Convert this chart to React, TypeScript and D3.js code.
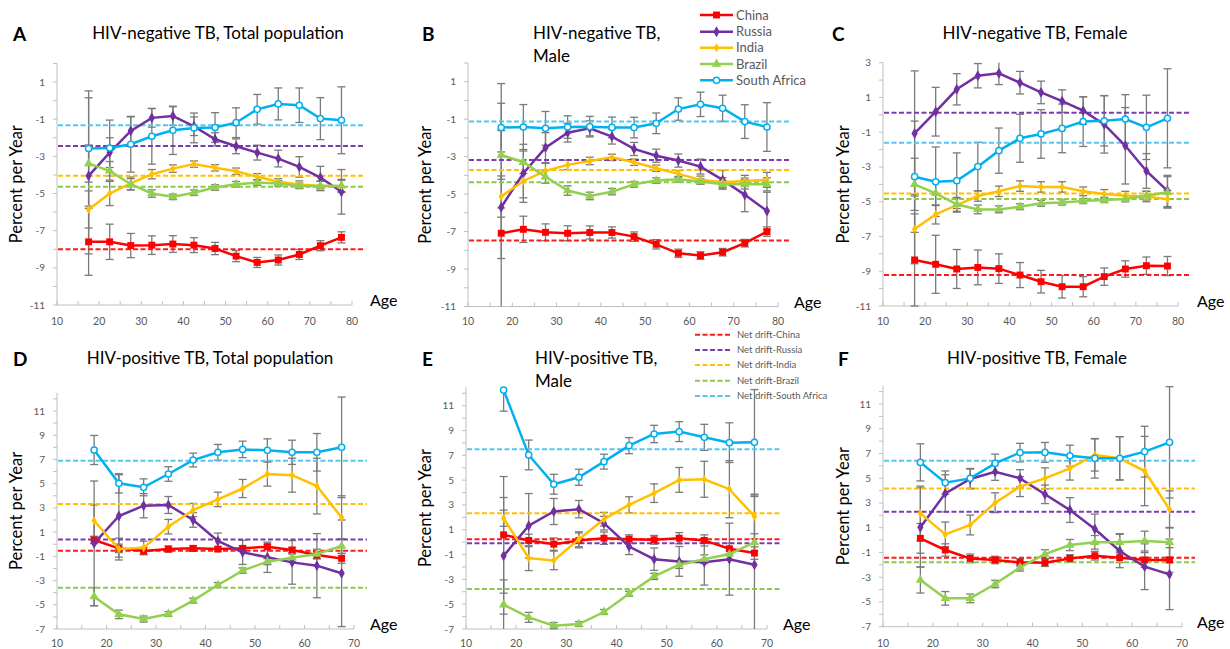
import React from 'react';
import * as d3 from 'd3';

// series order
const countries = ['China', 'Russia', 'India', 'Brazil', 'South Africa'];
const lineColors = ['#FF0000', '#7030A0', '#FFC000', '#92D050', '#00B0F0'];
const driftColors = ['#FF1A1A', '#7A3DB0', '#FFC000', '#8CC84B', '#55C6F0'];

const agesTop = [17.5, 22.5, 27.5, 32.5, 37.5, 42.5, 47.5, 52.5, 57.5, 62.5, 67.5, 72.5, 77.5];
const agesBottom = [17.5, 22.5, 27.5, 32.5, 37.5, 42.5, 47.5, 52.5, 57.5, 62.5, 67.5];

// ---- A: HIV-negative, total
const estA = {
  China: [-7.6, -7.6, -7.8, -7.78, -7.72, -7.78, -7.96, -8.37, -8.71, -8.58, -8.28, -7.81, -7.36],
  Russia: [-4.05, -2.8, -1.63, -0.93, -0.83, -1.38, -2.08, -2.46, -2.8, -3.12, -3.57, -4.14, -4.91],
  India: [-5.86, -5.0, -4.46, -3.96, -3.66, -3.42, -3.62, -3.8, -4.1, -4.37, -4.52, -4.59, -4.59],
  Brazil: [-3.39, -3.78, -4.5, -5.0, -5.18, -4.96, -4.68, -4.5, -4.41, -4.46, -4.59, -4.59, -4.59],
  'South Africa': [-2.58, -2.55, -2.35, -1.92, -1.6, -1.47, -1.45, -1.19, -0.47, -0.18, -0.25, -0.97, -1.06],
};
const ciA = {
  China: [1.8, 0.95, 0.65, 0.5, 0.45, 0.4, 0.33, 0.3, 0.27, 0.27, 0.27, 0.27, 0.3],
  Russia: [4.2, 0.8, 0.75, 0.5, 0.5, 0.5, 0.35, 0.4, 0.4, 0.45, 0.55, 0.6, 1.2],
  India: [1.0, 0.65, 0.35, 0.25, 0.2, 0.17, 0.17, 0.17, 0.17, 0.17, 0.2, 0.25, 0.3],
  Brazil: [1.0, 0.5, 0.3, 0.2, 0.15, 0.15, 0.15, 0.15, 0.15, 0.15, 0.15, 0.25, 0.35],
  'South Africa': [3.1, 1.5, 1.5, 1.5, 1.3, 0.8, 0.8, 0.8, 0.8, 0.86, 0.93, 1.13, 1.8],
};
const driftA = [-8.0, -2.44, -4.05, -4.64, -1.33];

// ---- B: HIV-negative, male
const estB = {
  China: [-7.09, -6.88, -7.04, -7.09, -7.05, -7.05, -7.27, -7.68, -8.16, -8.28, -8.1, -7.62, -7.0],
  Russia: [-5.7, -3.89, -2.52, -1.72, -1.49, -1.93, -2.59, -2.95, -3.21, -3.53, -4.24, -5.04, -5.9],
  India: [-5.13, -4.3, -3.76, -3.44, -3.23, -3.04, -3.3, -3.62, -3.92, -4.24, -4.37, -4.3, -4.24],
  Brazil: [-2.91, -3.3, -4.07, -4.81, -5.1, -4.87, -4.48, -4.28, -4.21, -4.33, -4.48, -4.48, -4.48],
  'South Africa': [-1.45, -1.42, -1.49, -1.42, -1.4, -1.44, -1.45, -1.22, -0.46, -0.21, -0.42, -1.13, -1.42],
};
const ciB = {
  China: [1.35, 0.7, 0.45, 0.4, 0.35, 0.3, 0.25, 0.25, 0.22, 0.2, 0.2, 0.2, 0.25],
  Russia: [6.6, 1.55, 0.8, 0.5, 0.4, 0.4, 0.35, 0.35, 0.35, 0.4, 0.5, 0.9, 1.0],
  India: [1.1, 0.9, 0.4, 0.25, 0.2, 0.17, 0.17, 0.17, 0.17, 0.2, 0.25, 0.3, 0.4],
  Brazil: [1.3, 0.6, 0.35, 0.25, 0.2, 0.17, 0.15, 0.15, 0.15, 0.15, 0.2, 0.25, 0.35],
  'South Africa': [1.3, 1.2, 0.9, 0.6, 0.55, 0.55, 0.55, 0.55, 0.6, 0.65, 0.7, 0.9, 1.3],
};
const driftB = [-7.48, -3.18, -3.71, -4.37, -1.13];

// ---- C: HIV-negative, female
const estC = {
  China: [-8.35, -8.6, -8.87, -8.78, -8.85, -9.22, -9.6, -9.89, -9.89, -9.31, -8.87, -8.68, -8.7],
  Russia: [-1.07, 0.18, 1.47, 2.25, 2.39, 1.85, 1.29, 0.79, 0.24, -0.55, -1.78, -3.23, -4.38],
  India: [-6.57, -5.73, -5.2, -4.67, -4.4, -4.1, -4.15, -4.15, -4.4, -4.55, -4.65, -4.7, -4.85],
  Brazil: [-4.0, -4.52, -5.15, -5.44, -5.44, -5.29, -5.09, -5.04, -4.96, -4.9, -4.84, -4.65, -4.46],
  'South Africa': [-3.56, -3.85, -3.79, -2.98, -2.06, -1.35, -1.1, -0.78, -0.39, -0.34, -0.24, -0.72, -0.2],
};
const ciC = {
  China: [2.65, 1.67, 1.12, 1.0, 0.85, 0.72, 0.65, 0.65, 0.58, 0.5, 0.47, 0.5, 0.55],
  Russia: [3.6, 1.4, 0.9, 0.7, 0.65, 0.65, 0.65, 0.65, 0.8, 1.65, 2.2, 1.0, 0.9],
  India: [2.0, 0.55, 0.4, 0.3, 0.3, 0.3, 0.3, 0.3, 0.25, 0.25, 0.25, 0.3, 0.5],
  Brazil: [1.5, 0.7, 0.4, 0.25, 0.2, 0.17, 0.17, 0.15, 0.15, 0.15, 0.17, 0.25, 0.9],
  'South Africa': [3.2, 2.0, 1.6, 1.4, 1.3, 1.38, 1.4, 1.4, 1.43, 1.45, 1.4, 1.85, 2.85],
};
const driftC = [-9.22, 0.12, -4.52, -4.84, -1.6];

// ---- D: HIV-positive, total
const estD = {
  China: [0.35, -0.34, -0.56, -0.4, -0.34, -0.4, -0.34, -0.2, -0.48, -0.89, -1.17],
  Russia: [0.07, 2.33, 3.18, 3.24, 2.0, 0.27, -0.67, -1.08, -1.5, -1.77, -2.4],
  India: [1.94, -0.4, -0.3, 1.45, 2.82, 3.7, 4.6, 5.8, 5.7, 4.8, 2.2],
  Brazil: [-4.33, -5.79, -6.18, -5.76, -4.66, -3.37, -2.18, -1.44, -1.11, -0.81, -0.15],
  'South Africa': [7.78, 5.03, 4.7, 5.8, 6.95, 7.59, 7.83, 7.75, 7.59, 7.59, 8.0],
};
const ciD = {
  China: [0.3, 0.35, 0.3, 0.25, 0.22, 0.2, 0.2, 0.2, 0.22, 0.3, 0.4],
  Russia: [5.15, 3.4, 1.0, 0.7, 0.6, 0.65, 1.0, 1.25, 1.8, 2.65, 4.4],
  India: [1.3, 0.9, 0.55, 0.6, 0.55, 0.6, 0.75, 1.0, 1.4, 2.3, 1.8],
  Brazil: [0.75, 0.35, 0.25, 0.2, 0.2, 0.2, 0.22, 0.25, 0.3, 0.4, 0.6],
  'South Africa': [1.2, 0.8, 0.7, 0.6, 0.57, 0.65, 0.68, 0.95, 1.0, 1.55, 4.15],
};
const driftD = [-0.53, 0.4, 3.32, -3.59, 6.9];

// ---- E: HIV-positive, male
const estE = {
  China: [0.59, 0.14, -0.16, 0.14, 0.32, 0.24, 0.19, 0.32, 0.14, -0.53, -0.88],
  Russia: [-1.1, 1.32, 2.47, 2.66, 1.53, -0.35, -1.37, -1.55, -1.61, -1.37, -1.82],
  India: [1.93, -1.29, -1.47, 0.24, 1.85, 3.01, 3.95, 5.02, 5.07, 4.27, 2.07],
  Brazil: [-5.04, -6.06, -6.73, -6.6, -5.63, -4.16, -2.76, -1.82, -1.37, -0.96, -0.02],
  'South Africa': [12.26, 7.03, 4.67, 5.23, 6.49, 7.78, 8.72, 8.91, 8.45, 8.02, 8.05],
};
const ciE = {
  China: [4.7, 0.5, 0.5, 0.6, 0.5, 0.35, 0.35, 0.45, 0.45, 0.45, 0.5],
  Russia: [4.7, 2.6, 1.05, 0.7, 0.55, 0.65, 0.9, 1.2, 1.85, 2.9, 5.5],
  India: [0.65, 1.0, 0.75, 0.6, 0.55, 0.65, 0.75, 1.0, 1.45, 2.3, 1.8],
  Brazil: [2.0, 0.4, 0.25, 0.2, 0.2, 0.2, 0.25, 0.3, 0.35, 0.5, 0.7],
  'South Africa': [1.7, 1.2, 0.8, 0.65, 0.6, 0.65, 0.7, 0.8, 1.05, 1.6, 4.25],
};
const driftE = [0.24, -0.08, 2.34, -3.78, 7.49];

// ---- F: HIV-positive, female
const estF = {
  China: [0.14, -0.8, -1.48, -1.61, -1.8, -1.83, -1.48, -1.26, -1.42, -1.61, -1.61],
  Russia: [1.03, 3.78, 4.94, 5.53, 4.99, 3.7, 2.43, 0.9, -0.88, -2.15, -2.77],
  India: [2.16, 0.46, 1.22, 3.02, 4.32, 4.99, 5.8, 6.88, 6.61, 5.58, 2.48],
  Brazil: [-3.23, -4.71, -4.71, -3.55, -2.2, -1.13, -0.4, -0.18, -0.18, -0.08, -0.18],
  'South Africa': [6.28, 4.64, 4.99, 6.2, 7.07, 7.09, 6.82, 6.61, 6.61, 7.15, 7.9],
};
const ciF = {
  China: [1.2, 0.5, 0.35, 0.3, 0.3, 0.3, 0.3, 0.35, 0.4, 0.6, 1.0],
  Russia: [3.2, 1.5, 0.8, 0.7, 0.7, 0.75, 1.0, 1.2, 1.35, 1.85, 2.85],
  India: [2.2, 1.0, 0.8, 0.8, 0.8, 0.85, 0.95, 1.3, 1.75, 2.8, 1.5],
  Brazil: [1.05, 0.55, 0.35, 0.3, 0.3, 0.35, 0.45, 0.55, 0.7, 0.8, 1.2],
  'South Africa': [1.5, 0.95, 0.8, 0.75, 0.75, 0.8, 0.85, 1.6, 1.75, 2.05, 4.5],
};
const driftF = [-1.42, 2.3, 4.18, -1.8, 6.42];

const FONT = 'Lato, "Open Sans", sans-serif';
const AXIS = '#BFBFBF';
const GREY = '#595959';
const ERR = '#7A7A7A';

// panel layout (pixel frames)
const panels = [
  { id: 'A', title: ['HIV-negative TB, Total population'], tx: 218, anchor: 'middle', lx: 13, est: estA, ci: ciA, drift: driftA, ages: agesTop,
    xMax: 80, px: [57, 352], yRef: [-11, 1], py: [305, 82], yMin: -11, yMax: 2, labX: 17, ageX: 370 },
  { id: 'B', title: ['HIV-negative TB,', 'Male'], tx: 533, anchor: 'start', lx: 422, est: estB, ci: ciB, drift: driftB, ages: agesTop,
    xMax: 80, px: [468, 778], yRef: [-11, 1], py: [306.5, 81.7], yMin: -11, yMax: 2, labX: 426, ageX: 794 },
  { id: 'C', title: ['HIV-negative TB, Female'], tx: 1035, anchor: 'middle', lx: 832, est: estC, ci: ciC, drift: driftC, ages: agesTop,
    xMax: 80, px: [883, 1178], yRef: [-11, 3], py: [306, 62.7], yMin: -11, yMax: 3, labX: 844, ageX: 1197 },
  { id: 'D', title: ['HIV-positive TB, Total population'], tx: 210, anchor: 'middle', lx: 13, est: estD, ci: ciD, drift: driftD, ages: agesBottom,
    xMax: 70, px: [57, 354], yRef: [-7, 11], py: [629, 411], yMin: -7, yMax: 12.5, labX: 17, ageX: 370 },
  { id: 'E', title: ['HIV-positive TB,', 'Male'], tx: 535, anchor: 'start', lx: 422, est: estE, ci: ciE, drift: driftE, ages: agesBottom,
    xMax: 70, px: [466, 767], yRef: [-7, 11], py: [629, 405.7], yMin: -7, yMax: 12.5, labX: 426, ageX: 783 },
  { id: 'F', title: ['HIV-positive TB, Female'], tx: 1037, anchor: 'middle', lx: 838, est: estF, ci: ciF, drift: driftF, ages: agesBottom,
    xMax: 70, px: [883, 1182], yRef: [-7, 11], py: [626.7, 404], yMin: -7, yMax: 12.5, labX: 844, ageX: 1197 },
];

const symbolFor = (i: number) => {
  if (i === 0) return d3.symbol(d3.symbolSquare, 48)();
  if (i === 1) return d3.symbol(d3.symbolDiamond, 34)();
  if (i === 2) return d3.symbol(d3.symbolDiamond, 24)();
  if (i === 3) return d3.symbol(d3.symbolTriangle, 38)();
  return d3.symbol(d3.symbolCircle, 30)();
};

const Marker = ({ i, x, y }: any) => (
  <path d={symbolFor(i) as string} transform={`translate(${x},${y})`}
    fill={i === 4 ? '#fff' : lineColors[i]} stroke={i === 4 ? lineColors[i] : 'none'} strokeWidth={1.5} />
);

const Panel = ({ p }: any) => {
  const x = d3.scaleLinear().domain([10, p.xMax]).range(p.px);
  const y = d3.scaleLinear().domain(p.yRef).range(p.py);
  const top = p.id < 'D';
  const x0 = p.px[0];
  const yBot = y(p.yMin);
  const yTop = y(p.yMax);
  const line = d3.line<number>().x((_, k) => x(p.ages[k])).y((d) => y(d));
  const clampV = (v: number) => Math.max(p.yMin, Math.min(p.yMax, v));
  const xTicks = d3.range(10, p.xMax + 1, 5);
  const xLabels = d3.range(10, p.xMax + 1, 10);
  const yMinor = d3.range(p.yMin, Math.floor(p.yMax) + 1, 1);
  const yLabels = d3.range(p.yMin, p.yMax + 0.01, 2);
  const titleBase = top ? 39 : 364;
  const tickBase = top ? 325 : 647;
  const midY = (yTop + yBot) / 2;
  const driftEnd = x(p.xMax) + 13;

  return (
    <g>
      <text x={p.lx} y={titleBase + 2} fontFamily={FONT} fontWeight={700} fontSize={19}>{p.id}</text>
      {p.title.map((t: string, k: number) => (
        <text key={k} x={p.tx} y={titleBase + k * 23} textAnchor={p.anchor} fontFamily={FONT} fontSize={17}>{t}</text>
      ))}
      {/* axes */}
      <line x1={x0} x2={x0} y1={yTop} y2={yBot} stroke={AXIS} />
      <line x1={x0} x2={x(p.xMax)} y1={yBot} y2={yBot} stroke={AXIS} />
      {yMinor.map((v: number) => (
        <line key={v} x1={x0 - 4} x2={x0} y1={y(v)} y2={y(v)} stroke={AXIS} />
      ))}
      {yLabels.map((v: number) => (
        <text key={v} x={x0 - 12} y={y(v)} dy="0.35em" textAnchor="end" fontFamily={FONT} fontSize={10} fill={GREY}>{v}</text>
      ))}
      {xTicks.map((v: number) => (
        <line key={v} x1={x(v)} x2={x(v)} y1={yBot - 4} y2={yBot} stroke={AXIS} />
      ))}
      {xLabels.map((v: number) => (
        <text key={v} x={x(v)} y={tickBase} textAnchor="middle" fontFamily={FONT} fontSize={10.5} fill={GREY}>{v}</text>
      ))}
      <text transform={`translate(${p.labX + 5},${midY}) rotate(-90)`} textAnchor="middle" fontFamily={FONT} fontSize={16.5}>Percent per Year</text>
      <text x={p.ageX} y={yBot + 1} fontFamily={FONT} fontSize={16}>Age</text>

      {/* error bars */}
      {countries.map((c) => (
        <g key={c} stroke={ERR} strokeWidth={1.3}>
          {p.est[c].map((v: number, k: number) => {
            const hw = p.ci[c][k];
            const lo = v - hw, hi = v + hw;
            const cx = x(p.ages[k]);
            return (
              <g key={k}>
                <line x1={cx} x2={cx} y1={y(clampV(hi))} y2={y(clampV(lo))} />
                {hi <= p.yMax && <line x1={cx - 4} x2={cx + 4} y1={y(hi)} y2={y(hi)} />}
                {lo >= p.yMin && <line x1={cx - 4} x2={cx + 4} y1={y(lo)} y2={y(lo)} />}
              </g>
            );
          })}
        </g>
      ))}

      {/* net drift */}
      {p.drift.map((v: number, i: number) => (
        <line key={i} x1={x0 + 1} x2={driftEnd} y1={y(v)} y2={y(v)} stroke={driftColors[i]} strokeWidth={2} strokeDasharray="5,2.5" />
      ))}

      {/* series */}
      {countries.map((c, i) => (
        <g key={c}>
          <path d={line(p.est[c]) as string} fill="none" stroke={lineColors[i]} strokeWidth={2.5} />
          {p.est[c].map((v: number, k: number) => (
            <Marker key={k} i={i} x={x(p.ages[k])} y={y(v)} />
          ))}
        </g>
      ))}
    </g>
  );
};

const topLegendY = [15, 31.7, 47.7, 64, 80.3];
const bottomLegendY = [334.7, 350, 365, 380.7, 396];

export default function App() {
  return (
    <svg width={1230} height={649} style={{ position: 'absolute', left: 0, top: 0, background: '#fff' }}>
      {panels.map((p) => <Panel key={p.id} p={p} />)}

      {/* legend: series */}
      {countries.map((c, i) => (
        <g key={c}>
          <line x1={700} x2={733} y1={topLegendY[i]} y2={topLegendY[i]} stroke={lineColors[i]} strokeWidth={2.5} />
          <Marker i={i} x={716.5} y={topLegendY[i]} />
          <text x={736} y={topLegendY[i]} dy="0.35em" fontFamily={FONT} fontSize={13} fill={GREY}>{c}</text>
        </g>
      ))}
      {/* legend: net drift */}
      {countries.map((c, i) => (
        <g key={c}>
          <line x1={695} x2={730} y1={bottomLegendY[i]} y2={bottomLegendY[i]} stroke={driftColors[i]} strokeWidth={2} strokeDasharray="5,2.5" />
          <text x={737} y={bottomLegendY[i]} dy="0.35em" fontFamily={FONT} fontSize={9.5} fill={GREY}>{`Net drift-${c}`}</text>
        </g>
      ))}
    </svg>
  );
}
